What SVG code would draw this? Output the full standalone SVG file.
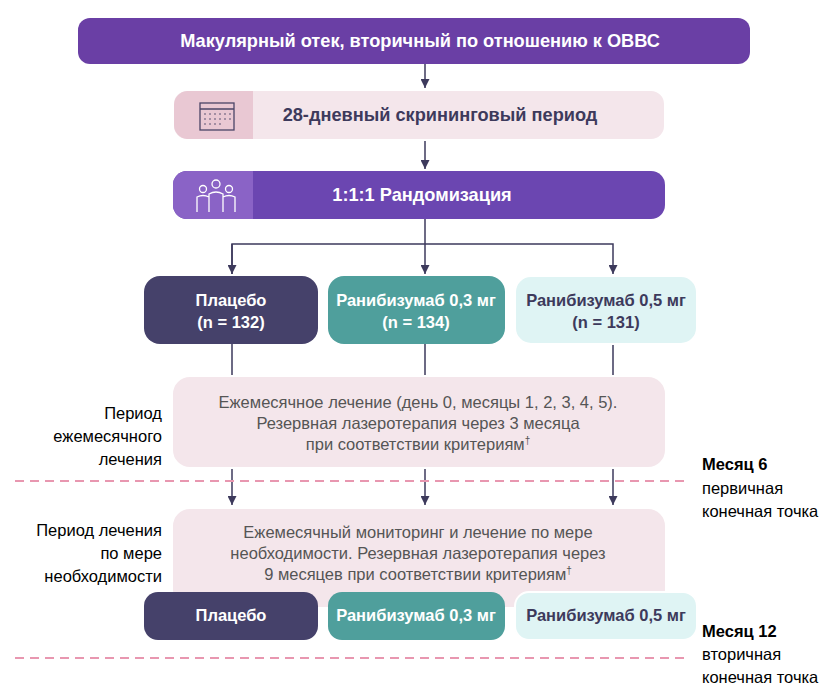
<svg xmlns="http://www.w3.org/2000/svg" width="840" height="693" viewBox="0 0 840 693">
<style>
text{font-family:"Liberation Sans",Arial,sans-serif;font-size:16.5px}
.b{font-weight:bold}
.big{font-size:18.2px}
.w{fill:#fff}
.d{fill:#3d3a5c}
.g{fill:#555}
.c{stroke:#3d3a5c;stroke-width:1.5;fill:none}
.dash{stroke:#e897b0;stroke-width:2;stroke-dasharray:9 6}
.pk{fill:#f4e6eb;stroke:#fff;stroke-width:2}
.sup{font-size:10px}
</style>
<defs>
<marker id="ar" viewBox="0 0 10 10" refX="10" refY="5" markerWidth="9" markerHeight="9" orient="auto" markerUnits="userSpaceOnUse"><path d="M0,0L10,5L0,10z" fill="#3d3a5c"/></marker>
</defs>
<g id="connectors">
<path class="c" d="M425,64V88" marker-end="url(#ar)"/>
<path class="c" d="M425,140V169" marker-end="url(#ar)"/>
<path class="c" d="M425,219V274"  marker-end="url(#ar)"/>
<path class="c" d="M232,274V244H613V274" marker-end="url(#ar)"/>
<path class="c" d="M232,244V274" marker-end="url(#ar)"/>
<path class="c" d="M232,344V377M425,344V377M613,344V377"/>
<path class="c" d="M232,468V505" marker-end="url(#ar)"/>
<path class="c" d="M425,468V505" marker-end="url(#ar)"/>
<path class="c" d="M613,468V505" marker-end="url(#ar)"/>
<line class="dash" x1="15" y1="481" x2="690" y2="481"/>
<line class="dash" x1="15" y1="658" x2="690" y2="658"/>
</g>
<g id="top"><rect x="78" y="18" width="672" height="46" rx="12" fill="#6a3fa5"/><text x="420" y="47" text-anchor="middle" class="b w big">Макулярный отек, вторичный по отношению к ОВВС</text></g>
<g id="screen"><rect class="pk" x="173" y="90" width="492" height="50" rx="14"/><path d="M187,91H253V139H187A14,14 0 0 1 174,125V105A14,14 0 0 1 187,91z" fill="#e9c8d3"/>
<g fill="none" stroke="#4a4466" stroke-width="1.3"><rect x="200" y="103" width="34" height="27"/><line x1="200" y1="109" x2="234" y2="109"/></g>
<g fill="#4a4466"><circle cx="205" cy="114" r=".8"/><circle cx="210" cy="114" r=".8"/><circle cx="215" cy="114" r=".8"/><circle cx="220" cy="114" r=".8"/><circle cx="225" cy="114" r=".8"/><circle cx="230" cy="114" r=".8"/><circle cx="205" cy="119" r=".8"/><circle cx="210" cy="119" r=".8"/><circle cx="215" cy="119" r=".8"/><circle cx="220" cy="119" r=".8"/><circle cx="225" cy="119" r=".8"/><circle cx="230" cy="119" r=".8"/><circle cx="205" cy="124" r=".8"/><circle cx="210" cy="124" r=".8"/><circle cx="215" cy="124" r=".8"/><circle cx="220" cy="124" r=".8"/></g>
<text x="440" y="121" text-anchor="middle" class="b d big">28-дневный скрининговый период</text></g>
<g id="rand"><rect x="173" y="171" width="492" height="48" rx="14" fill="#6b46b1"/><path d="M187,171H253V219H187A14,14 0 0 1 173,205V185A14,14 0 0 1 187,171z" fill="#8a63c6"/>
<g fill="none" stroke="#fff" stroke-width="1.3"><circle cx="216" cy="184" r="4"/><circle cx="203" cy="189" r="3.5"/><circle cx="229" cy="189" r="3.5"/><path d="M209,212V194Q216,190 223,194V212M197,212V197Q203,194 209,197M223,197Q229,194 235,197V212"/></g>
<text x="422" y="201" text-anchor="middle" class="b w big">1:1:1 Рандомизация</text></g>
<g id="placebo"><rect x="144" y="276" width="174" height="68" rx="16" fill="#45416a"/><text x="231" y="306" text-anchor="middle" class="b w">Плацебо</text><text x="231" y="328" text-anchor="middle" class="b w">(n = 132)</text></g>
<g id="r03"><rect x="328" y="276" width="177" height="68" rx="16" fill="#4f9f9c"/><text x="416" y="306" text-anchor="middle" class="b w">Ранибизумаб 0,3 мг</text><text x="416" y="328" text-anchor="middle" class="b w">(n = 134)</text></g>
<g id="r05"><rect x="515" y="276" width="182" height="68" rx="16" fill="#dff4f4" stroke="#fff" stroke-width="2"/><text x="606" y="306" text-anchor="middle" class="b d">Ранибизумаб 0,5 мг</text><text x="606" y="328" text-anchor="middle" class="b d">(n = 131)</text></g>
<g id="monthly"><rect class="pk" x="172" y="376" width="494" height="92" rx="18"/>
<text x="418" y="408" text-anchor="middle" class="g">Ежемесячное лечение (день 0, месяцы 1, 2, 3, 4, 5).</text>
<text x="418" y="429" text-anchor="middle" class="g">Резервная лазеротерапия через 3 месяца</text>
<text x="418" y="450" text-anchor="middle" class="g">при соответствии критериям<tspan class="sup" dy="-6">†</tspan></text></g>
<g id="prn"><rect class="pk" x="172" y="508" width="494" height="100" rx="18"/>
<text x="418" y="538" text-anchor="middle" class="g">Ежемесячный мониторинг и лечение по мере</text>
<text x="418" y="559" text-anchor="middle" class="g">необходимости. Резервная лазеротерапия через</text>
<text x="418" y="580" text-anchor="middle" class="g">9 месяцев при соответствии критериям<tspan class="sup" dy="-6">†</tspan></text></g>
<g id="placebo2"><rect x="144" y="592" width="174" height="48" rx="14" fill="#45416a"/><text x="231" y="621" text-anchor="middle" class="b w">Плацебо</text></g>
<g id="r03b"><rect x="328" y="592" width="177" height="48" rx="14" fill="#4f9f9c"/><text x="416" y="621" text-anchor="middle" class="b w">Ранибизумаб 0,3 мг</text></g>
<g id="r05b"><rect x="515" y="592" width="182" height="48" rx="14" fill="#dff4f4" stroke="#fff" stroke-width="2"/><text x="606" y="621" text-anchor="middle" class="b d">Ранибизумаб 0,5 мг</text></g>
<g id="labels">
<text x="162" y="419" text-anchor="end">Период</text>
<text x="162" y="442" text-anchor="end">ежемесячного</text>
<text x="162" y="465" text-anchor="end">лечения</text>
<text x="162" y="536" text-anchor="end">Период лечения</text>
<text x="162" y="559" text-anchor="end">по мере</text>
<text x="162" y="582" text-anchor="end">необходимости</text>
<text x="702" y="470" class="b">Месяц 6</text>
<text x="702" y="494">первичная</text>
<text x="702" y="517">конечная точка</text>
<text x="702" y="637" class="b">Месяц 12</text>
<text x="702" y="660">вторичная</text>
<text x="702" y="683">конечная точка</text>
</g>
</svg>
